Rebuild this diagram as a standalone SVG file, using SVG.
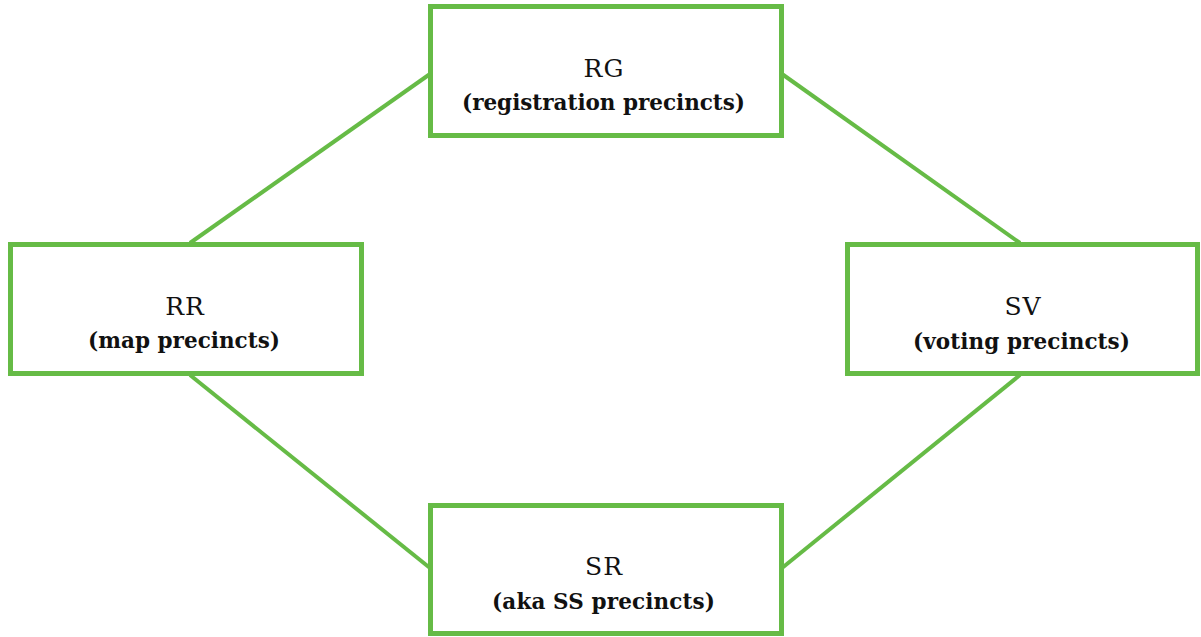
<svg xmlns="http://www.w3.org/2000/svg" width="1201" height="637" viewBox="0 0 1201 637">
<style>
.box{fill:#fff;stroke:#66bb46;stroke-width:5}
.edge{stroke:#66bb46;stroke-width:4;fill:none}
.t{font-family:"DejaVu Serif","Liberation Serif",serif;font-size:21.5px;font-weight:bold;fill:#111;text-anchor:middle}
.h{font-size:25px;font-weight:normal;letter-spacing:1px}
</style>
<rect width="1201" height="637" fill="#fff"/>
<g id="connectors">
<line class="edge" x1="430" y1="74" x2="190" y2="243"/>
<line class="edge" x1="782" y1="74" x2="1020" y2="243"/>
<line class="edge" x1="190" y1="375" x2="430" y2="568"/>
<line class="edge" x1="1020" y1="375" x2="782" y2="568"/>
</g>
<g id="RG">
<rect class="box" x="430.5" y="6.5" width="351" height="129"/>
<text class="t h" x="604" y="77">RG</text>
<text class="t" x="603.5" y="110" textLength="283" lengthAdjust="spacing">(registration precincts)</text>
</g>
<g id="RR">
<rect class="box" x="10.5" y="244.5" width="351" height="129"/>
<text class="t h" x="185" y="315">RR</text>
<text class="t" x="184" y="348" textLength="192" lengthAdjust="spacing">(map precincts)</text>
</g>
<g id="SV">
<rect class="box" x="847.5" y="244.5" width="350" height="129"/>
<text class="t h" x="1023" y="315">SV</text>
<text class="t" x="1021.5" y="349" textLength="217" lengthAdjust="spacing">(voting precincts)</text>
</g>
<g id="SR">
<rect class="box" x="430.5" y="505.5" width="351" height="128"/>
<text class="t h" x="604" y="575">SR</text>
<text class="t" x="603.5" y="609" textLength="223" lengthAdjust="spacing">(aka SS precincts)</text>
</g>
</svg>
